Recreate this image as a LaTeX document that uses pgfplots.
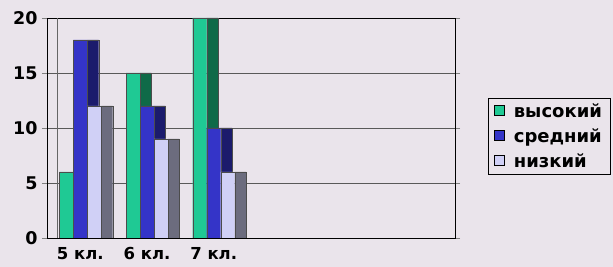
\documentclass[border=0pt]{standalone}
\usepackage{pgfplots}
\pgfplotsset{compat=1.18}
\usepackage{fontspec}
\setmainfont{DejaVu Sans}
\definecolor{bg}{HTML}{EAE4EB}
\definecolor{gfront}{HTML}{1FC994}
\definecolor{gside}{HTML}{0F6A48}
\definecolor{bfront}{HTML}{3434C8}
\definecolor{bside}{HTML}{1B1B6C}
\definecolor{lfront}{HTML}{D0D0F6}
\definecolor{lside}{HTML}{6C6C7E}
\begin{document}
\begin{tikzpicture}
\fill[bg] (-47pt,-29pt) rectangle (566pt,238pt);
\begin{axis}[
  at={(0pt,0pt)}, anchor=south west,
  scale only axis, width=408pt, height=220pt,
  xmin=-0.5, xmax=5.62, ymin=0, ymax=20,
  axis background/.style={fill=bg},
  xtick={0,1,2}, xticklabels={5 кл.,6 кл.,7 кл.},
  x tick style={draw=none},
  extra x ticks={0.5,1.5,2.5,3.5,4.5},
  extra x tick labels={},
  extra x tick style={major tick length=3pt, tick align=outside, tick style={draw=black}},
  ytick={0,5,10,15,20},
  ytick align=outside, major tick length=5pt,
  ymajorgrids, grid style={black!65, line width=0.6pt},
  axis line style={black, line width=0.8pt},
  xticklabel style={font=\fontsize{16.5}{18}\selectfont\bfseries, yshift=-6pt},
  yticklabel style={font=\fontsize{17.5}{19}\selectfont\bfseries, xshift=-1pt},
  /pgf/number format/assume math mode=true,
  legend style={at={(axis description cs:1.081,0.636)}, anchor=north west,
    draw=black, line width=0.6pt, fill=bg, font=\fontsize{18}{19}\selectfont\bfseries,
    row sep=8pt, column sep=7pt, inner xsep=6pt, inner ysep=4pt, nodes={inner xsep=2pt, inner ysep=1pt}},
  legend cell align=left,
]
\draw[black!60, line width=0.5pt] (axis cs:-0.35,0) -- (axis cs:-0.35,20);
% высокий
\addplot[ybar, bar width=0.17, bar shift=-0.02, fill=gside, draw=black!70, line width=0.3pt, forget plot]
  coordinates {(0,6) (1,15) (2,20)};
\addplot[ybar, bar width=0.21, bar shift=-0.21, fill=gfront, draw=black!70, line width=0.3pt,
  legend image code/.code={\draw[fill=gfront, draw=black, line width=0.5pt] (0pt,-4pt) rectangle (10pt,6pt);}]
  coordinates {(0,6) (1,15) (2,20)};
\addlegendentry{высокий}
% средний
\addplot[ybar, bar width=0.17, bar shift=0.19, fill=bside, draw=black!70, line width=0.3pt, forget plot]
  coordinates {(0,18) (1,12) (2,10)};
\addplot[ybar, bar width=0.21, bar shift=0, fill=bfront, draw=black!70, line width=0.3pt,
  legend image code/.code={\draw[fill=bfront, draw=black, line width=0.5pt] (0pt,-4pt) rectangle (10pt,6pt);}]
  coordinates {(0,18) (1,12) (2,10)};
\addlegendentry{средний}
% низкий
\addplot[ybar, bar width=0.17, bar shift=0.40, fill=lside, draw=black!70, line width=0.3pt, forget plot]
  coordinates {(0,12) (1,9) (2,6)};
\addplot[ybar, bar width=0.21, bar shift=0.21, fill=lfront, draw=black!70, line width=0.3pt,
  legend image code/.code={\draw[fill=lfront, draw=black, line width=0.5pt] (0pt,-4pt) rectangle (10pt,6pt);}]
  coordinates {(0,12) (1,9) (2,6)};
\addlegendentry{низкий}
\end{axis}
\pgfresetboundingbox
\path[use as bounding box] (-47pt,-29pt) rectangle (566pt,238pt);
\end{tikzpicture}
\end{document}
